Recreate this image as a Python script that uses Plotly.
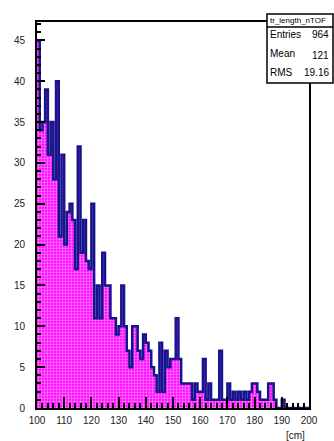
import plotly.graph_objects as go

# tr_length_nTOF histogram, 1 cm bins from 100 to 200 cm
bin_lo = list(range(100, 200))
counts = [45, 34, 35, 39, 31, 35, 28, 40, 21, 31,
          20, 24, 25, 23, 17, 32, 19, 23, 18, 17,
          25, 11, 15, 11, 19, 15, 15, 11, 11, 9,
          10, 15, 10, 7, 5, 10, 10, 7, 6, 9,
          8, 7, 5, 4, 2, 8, 2, 7, 5, 6,
          6, 11, 6, 3, 3, 3, 3, 1, 3, 2,
          2, 6, 1, 3, 1, 1, 1, 7, 1, 1,
          3, 1, 2, 1, 2, 1, 2, 1, 2, 3,
          3, 2, 1, 1, 1, 3, 3, 1, 0, 0,
          1, 0, 0, 0, 0, 0, 0, 0, 0, 0]

x_ticks = [100, 110, 120, 130, 140, 150, 160, 170, 180, 190, 200]
y_ticks = [0, 5, 10, 15, 20, 25, 30, 35, 40, 45]

stats_title = "tr_length_nTOF"
stats_rows = [("Entries", "964"), ("Mean", "121"), ("RMS", "19.16")]

FONT = "Liberation Sans, Arial, Helvetica, sans-serif"

# frame in pixels (ROOT pad)
L, R, T, B = 37, 309, 22, 408


def px(x):
    return (x - L) / (R - L)


def py(y):
    return (B - y) / (B - T)


# step outline built from bin edges
edges = bin_lo + [bin_lo[-1] + 1]
step_y = counts + [counts[-1]]

fig = go.Figure()
fig.add_trace(
    go.Scatter(
        x=edges,
        y=step_y,
        mode="lines",
        line=dict(shape="hv", color="#14148c", width=2.5),
        fill="tozeroy",
        fillcolor="#ff00ff",
        fillpattern=dict(
            shape=".",
            fgcolor="white",
            bgcolor="#ff00ff",
            size=3,
            solidity=0.45,
            fillmode="overlay",
        ),
        hoverinfo="skip",
        showlegend=False,
    )
)

axis_common = dict(
    showline=True,
    linecolor="black",
    linewidth=2,
    mirror=True,
    showgrid=False,
    zeroline=False,
    ticks="inside",
    tickcolor="black",
    tickwidth=1.5,
    tickfont=dict(family=FONT, size=10, color="#222222"),
)

fig.update_xaxes(
    range=[100, 200],
    tickvals=x_ticks,
    ticklen=11,
    ticklabelstandoff=2,
    minor=dict(tick0=100, dtick=2, ticks="inside", ticklen=5.5,
               tickwidth=1.5, tickcolor="black", showgrid=False),
    **axis_common,
)
fig.update_yaxes(
    range=[0, 47.25],
    tickvals=y_ticks,
    ticklen=8,
    ticklabelstandoff=8,
    minor=dict(tick0=0, dtick=1, ticks="inside", ticklen=4,
               tickwidth=1.5, tickcolor="black", showgrid=False),
    **axis_common,
)

# stats box
box_l, box_r, box_t, box_b, box_sep = 267, 333, 14, 83, 27
shapes = [
    dict(type="rect", xref="paper", yref="paper",
         x0=px(box_l), x1=px(box_r), y0=py(box_b), y1=py(box_t),
         line=dict(color="black", width=1.5), fillcolor="white", layer="above"),
    dict(type="line", xref="paper", yref="paper",
         x0=px(box_l), x1=px(box_r), y0=py(box_sep), y1=py(box_sep),
         line=dict(color="black", width=1.5), layer="above"),
]

annotations = [
    dict(text=stats_title, xref="paper", yref="paper",
         x=px(box_l + 1), y=py((box_t + box_sep) / 2),
         xanchor="left", yanchor="middle", showarrow=False,
         font=dict(family=FONT, size=8, color="black")),
    dict(text="[cm]", xref="paper", yref="paper",
         x=px(307), y=py(435), xanchor="right", yanchor="middle",
         showarrow=False, font=dict(family=FONT, size=10, color="#222222")),
]
row_h = (box_b - box_sep) / len(stats_rows)
for i, (name, val) in enumerate(stats_rows):
    yc = box_sep + row_h * (i + 0.5) - 1.5
    # ROOT draws the plain integer mean a little lower than its label
    val_shift = 2 if name == "Mean" else 0
    annotations.append(dict(text=name, xref="paper", yref="paper",
                            x=px(box_l + 1), y=py(yc), xanchor="left",
                            yanchor="middle", showarrow=False,
                            font=dict(family=FONT, size=10, color="black")))
    annotations.append(dict(text=val, xref="paper", yref="paper",
                            x=px(box_r - 2), y=py(yc + val_shift),
                            xanchor="right", yanchor="middle",
                            showarrow=False,
                            font=dict(family=FONT, size=10, color="black")))

fig.update_layout(
    width=334,
    height=441,
    margin=dict(l=L, r=334 - R, t=T, b=441 - B),
    paper_bgcolor="white",
    plot_bgcolor="white",
    shapes=shapes,
    annotations=annotations,
    showlegend=False,
)

# page body margin would shift the figure by 8px
fig.write_html(
    "out.html",
    config={"displayModeBar": False},
    post_script="document.body.style.margin='0';",
)
